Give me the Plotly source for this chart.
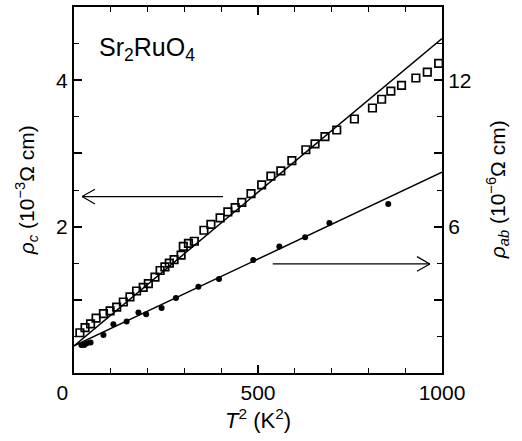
import plotly.graph_objects as go

# rho_c data (open squares, left axis, 1e-3 Ohm cm)
t2_c = [16, 30, 45, 60, 80, 98, 116, 134, 152, 170, 188, 202, 220, 234, 247, 259, 272, 291,
        297, 311, 327, 353, 372, 397, 418, 438, 456, 481, 510, 535, 562, 592, 630, 655,
        682, 714, 762, 811, 836, 861, 890, 929, 960, 991]
rho_c = [0.55, 0.62, 0.67, 0.75, 0.81, 0.85, 0.90, 0.97, 1.04, 1.12, 1.17, 1.22, 1.31, 1.40,
         1.45, 1.50, 1.55, 1.61, 1.73, 1.77, 1.80, 1.95, 2.03, 2.12, 2.20, 2.26, 2.33, 2.45,
         2.57, 2.69, 2.76, 2.90, 3.05, 3.13, 3.23, 3.32, 3.47, 3.62, 3.74, 3.85, 3.93, 4.03,
         4.11, 4.23]

# rho_ab data (filled circles, right axis, 1e-6 Ohm cm)
t2_ab = [20, 28, 35, 45, 80, 107, 143, 175, 196, 238, 277, 338, 394, 487, 558, 628, 694, 854]
rho_ab = [1.15, 1.15, 1.22, 1.25, 1.56, 2.00, 2.11, 2.48, 2.41, 2.66, 3.07, 3.53, 3.85, 4.63,
          5.18, 5.56, 6.15, 6.93]

# linear fits
fit_x = [0, 1000]
fit_c = [0.37, 4.57]
fit_ab = [1.11, 8.23]

# arrows (data coordinates): tail x, head x, level
arrow_c = [405, 22, 2.41]
arrow_ab = [540, 967, 4.47]

x_ticks = [0, 500, 1000]
x_ticktext = ["0\u00a0\u00a0\u00a0\u00a0", "500", "1000"]
y_ticks = [0, 1, 2, 3, 4, 5]
y_ticktext = ["", "", "2", "", "4", ""]
y2_ticks = [0, 3, 6, 9, 12, 15]
y2_ticktext = ["", "", "6", "", "12", ""]

x_title = "<i>T</i><sup>2</sup> (K<sup>2</sup>)"
y_title = "<i>ρ</i><sub><i>c</i></sub> (10<sup>−3</sup>Ω cm)"
y2_title = "<i>ρ</i><sub><i>ab</i></sub> (10<sup>−6</sup>Ω cm)"
label = "Sr<sub>2</sub>RuO<sub>4</sub>"

FONT = "Liberation Sans, Arial, Helvetica, sans-serif"

fig = go.Figure()
fig.add_trace(go.Scatter(x=fit_x, y=fit_c, mode="lines", line=dict(color="black", width=1.5),
                         showlegend=False))
fig.add_trace(go.Scatter(x=t2_c, y=rho_c, mode="markers",
                         marker=dict(symbol="square-open", size=7.5, color="black",
                                     line=dict(width=1.7, color="black")),
                         showlegend=False))
fig.add_trace(go.Scatter(x=fit_x, y=fit_ab, mode="lines", line=dict(color="black", width=1.5),
                         yaxis="y2", showlegend=False))
fig.add_trace(go.Scatter(x=t2_ab, y=rho_ab, mode="markers",
                         marker=dict(symbol="circle", size=6, color="black"),
                         yaxis="y2", showlegend=False))

# arrows as shapes
head_dx = 35  # in T^2 units (~13 px)
shapes = []
tail, head, lev = arrow_c
hy = 0.1
shapes += [
    dict(type="line", xref="x", yref="y", x0=tail, x1=head, y0=lev, y1=lev,
         line=dict(color="black", width=1.2)),
    dict(type="line", xref="x", yref="y", x0=head, x1=head + head_dx, y0=lev, y1=lev + hy,
         line=dict(color="black", width=1.2)),
    dict(type="line", xref="x", yref="y", x0=head, x1=head + head_dx, y0=lev, y1=lev - hy,
         line=dict(color="black", width=1.2)),
]
tail, head, lev = arrow_ab
hy2 = 0.3
shapes += [
    dict(type="line", xref="x", yref="y2", x0=tail, x1=head, y0=lev, y1=lev,
         line=dict(color="black", width=1.2)),
    dict(type="line", xref="x", yref="y2", x0=head, x1=head - head_dx, y0=lev, y1=lev + hy2,
         line=dict(color="black", width=1.2)),
    dict(type="line", xref="x", yref="y2", x0=head, x1=head - head_dx, y0=lev, y1=lev - hy2,
         line=dict(color="black", width=1.2)),
]

annotations = [
    dict(text=label, xref="paper", yref="paper", x=0.062, y=0.885, xanchor="left",
         yanchor="middle", showarrow=False, font=dict(size=25, family=FONT)),
    dict(text=x_title, xref="paper", yref="paper", x=0.5, y=-0.125, xanchor="center",
         yanchor="middle", showarrow=False, font=dict(size=22, family=FONT)),
    dict(text=y_title, xref="paper", yref="paper", x=-0.13, y=0.5, xanchor="center",
         yanchor="middle", textangle=-90, showarrow=False, font=dict(size=21, family=FONT)),
    dict(text=y2_title, xref="paper", yref="paper", x=1.15, y=0.5, xanchor="center",
         yanchor="middle", textangle=-90, showarrow=False, font=dict(size=21, family=FONT)),
]

fig.update_layout(
    width=522, height=441,
    margin=dict(l=74, r=80, t=7, b=68, autoexpand=False),
    paper_bgcolor="white", plot_bgcolor="white",
    font=dict(family=FONT, size=21, color="black"),
    shapes=shapes,
    annotations=annotations,
    xaxis=dict(range=[0, 1000], tickvals=x_ticks, ticktext=x_ticktext, ticks="inside",
               ticklen=8, tickwidth=1.5,
               showline=True, linecolor="black", linewidth=2, mirror="ticks",
               showgrid=False, zeroline=False, tickcolor="black", automargin=False,
               minor=dict(dtick=100, ticks="inside", ticklen=5, tickcolor="black", tickwidth=1)),
    yaxis=dict(range=[0, 5], tickvals=y_ticks, ticktext=y_ticktext, ticks="inside",
               ticklen=8, tickwidth=1.5, tickcolor="black", automargin=False,
               showline=True, linecolor="black", linewidth=2, mirror=True,
               showgrid=False, zeroline=False,
               minor=dict(dtick=0.5, ticks="inside", ticklen=5, tickcolor="black", tickwidth=1)),
    yaxis2=dict(range=[0, 15], overlaying="y", side="right", tickvals=y2_ticks,
                ticktext=y2_ticktext, ticks="inside", ticklen=8, tickwidth=1.5,
                tickcolor="black", showline=True, linecolor="black", linewidth=2,
                showgrid=False, zeroline=False, automargin=False,
                minor=dict(dtick=1.5, ticks="inside", ticklen=5, tickcolor="black", tickwidth=1)),
)

fig.write_html("out.html", config={"displayModeBar": False},
               post_script="document.body.style.margin='0';")
